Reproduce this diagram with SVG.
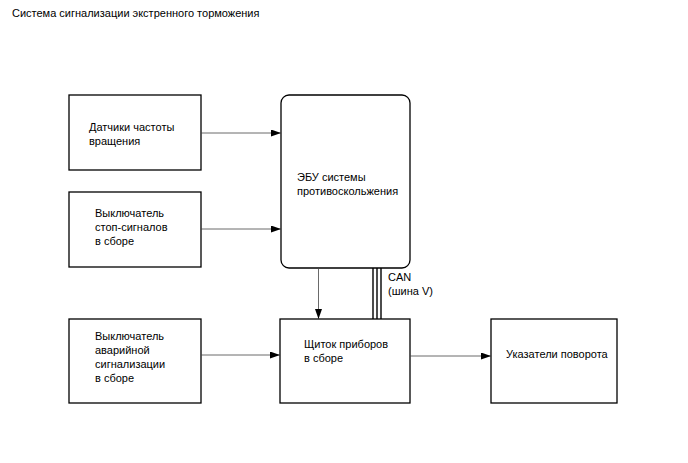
<svg xmlns="http://www.w3.org/2000/svg" width="688" height="463" viewBox="0 0 688 463">
<style>
.b{fill:#fff;stroke:#000;stroke-width:1.3}
.t{font-family:"Liberation Sans",Arial,sans-serif;font-size:11px;fill:#000}
.c{stroke:#444;stroke-width:0.8;fill:none}
</style>
<defs>
<marker id="a" markerWidth="10" markerHeight="7" refX="10" refY="3.5" orient="auto" markerUnits="userSpaceOnUse"><path d="M0,0 L10,3.5 L0,7 Z" fill="#000"/></marker>
</defs>
<rect width="688" height="463" fill="#fff"/>
<text class="t" x="12" y="17">Система сигнализации экстренного торможения</text>
<g id="sensors"><rect class="b" x="69" y="95" width="132" height="75"/><text class="t" x="89" y="131">Датчики частоты</text><text class="t" x="89" y="145">вращения</text></g>
<g id="stop"><rect class="b" x="69" y="192" width="132" height="75"/><text class="t" x="95" y="217">Выключатель</text><text class="t" x="95" y="231">стоп-сигналов</text><text class="t" x="95" y="245">в сборе</text></g>
<g id="ecu"><rect class="b" x="281" y="95" width="129" height="173" rx="8"/><text class="t" x="297" y="181">ЭБУ системы</text><text class="t" x="297" y="195">противоскольжения</text></g>
<g id="hazard"><rect class="b" x="69" y="319" width="132" height="84"/><text class="t" x="95" y="340">Выключатель</text><text class="t" x="95" y="354">аварийной</text><text class="t" x="95" y="368">сигнализации</text><text class="t" x="95" y="382">в сборе</text></g>
<g id="cluster"><rect class="b" x="280" y="319" width="130" height="84"/><text class="t" x="304" y="348">Щиток приборов</text><text class="t" x="304" y="362">в сборе</text></g>
<g id="turn"><rect class="b" x="491" y="319" width="126" height="84"/><text class="t" x="506" y="358">Указатели поворота</text></g>
<g id="connectors">
<line class="c" x1="201" y1="133" x2="281" y2="133" marker-end="url(#a)"/>
<line class="c" x1="201" y1="229" x2="281" y2="229" marker-end="url(#a)"/>
<line class="c" x1="201" y1="355" x2="280" y2="355" marker-end="url(#a)"/>
<line class="c" x1="410" y1="356" x2="491" y2="356" marker-end="url(#a)"/>
<line class="c" x1="318.5" y1="268" x2="318.5" y2="319" marker-end="url(#a)"/>
<g stroke="#000" stroke-width="1.4"><line x1="373" y1="268" x2="373" y2="319"/><line x1="377" y1="268" x2="377" y2="319"/><line x1="381" y1="268" x2="381" y2="319"/></g>
<text class="t" x="388" y="281">CAN</text><text class="t" x="388" y="295">(шина V)</text>
</g>
</svg>
